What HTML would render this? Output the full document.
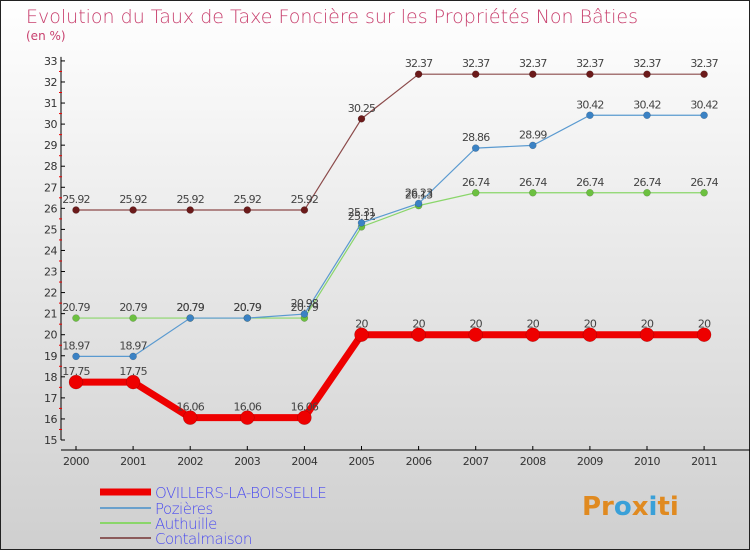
<!DOCTYPE html>
<html><head><meta charset="utf-8"><style>
body{margin:0}
svg{display:block;font-family:"DejaVu Sans","Liberation Sans",sans-serif}
</style></head><body>
<svg id="c" width="750" height="550" xmlns="http://www.w3.org/2000/svg">
<defs><linearGradient id="bg" x1="0" y1="0" x2="0" y2="1"><stop offset="0" stop-color="#ffffff"/><stop offset="1" stop-color="#cfcfcf"/></linearGradient></defs>
<rect x="0.5" y="0.5" width="749" height="549" fill="url(#bg)" stroke="#222"/>
<text x="26" y="23" font-size="19" fill="#c8406e" font-weight="200">Evolution du Taux de Taxe Foncière sur les Propriétés Non Bâties</text>
<text x="26" y="40" font-size="12" fill="#c8406e">(en %)</text>
<g id="axes"></g><g id="series"></g><g id="legend"></g>
</svg>
<script>
const years=["2000","2001","2002","2003","2004","2005","2006","2007","2008","2009","2010","2011"];
const yTicks=[15,16,17,18,19,20,21,22,23,24,25,26,27,28,29,30,31,32,33];
const ovillers=[17.75,17.75,16.06,16.06,16.06,20,20,20,20,20,20,20];
const pozieres=[18.97,18.97,20.79,20.79,20.98,25.31,26.23,28.86,28.99,30.42,30.42,30.42];
const authuille=[20.79,20.79,20.79,20.79,20.79,25.12,26.13,26.74,26.74,26.74,26.74,26.74];
const contalmaison=[25.92,25.92,25.92,25.92,25.92,30.25,32.37,32.37,32.37,32.37,32.37,32.37];
const NS="http://www.w3.org/2000/svg";
const X=i=>76+i*57.1;
const Y=v=>440-(v-15)*21.06;
function mk(p,t,a){const e=document.createElementNS(NS,t);for(const k in a)e.setAttribute(k,a[k]);p.appendChild(e);return e;}
const ax=document.getElementById('axes');
let l=mk(ax,'line',{x1:61,y1:Y(33)-4,x2:61,y2:Y(15),stroke:'#000'});


l=mk(ax,'line',{x1:61,y1:450,x2:750,y2:450,stroke:'#000'});


yTicks.forEach(v=>{
 mk(ax,'line',{x1:61,y1:Y(v),x2:65,y2:Y(v),stroke:'#000'});
 if(v<33)mk(ax,'line',{x1:59,y1:Y(v+0.5),x2:62,y2:Y(v+0.5),stroke:'#e00'});
 const t=mk(ax,'text',{x:57,y:Y(v)+4,'font-size':11,fill:'#333','text-anchor':'end','letter-spacing':'-0.5'});
 t.textContent=v;
 
 
});
years.forEach((y,i)=>{
 mk(ax,'line',{x1:X(i),y1:446,x2:X(i),y2:450,stroke:'#000'});
 const t=mk(ax,'text',{x:X(i),y:465,'font-size':11,fill:'#333','text-anchor':'middle','letter-spacing':'-0.5'});
 t.textContent=y;
 
 
});
const sg=document.getElementById('series');
function draw(data,color,dot,w,r,name){
 const g=mk(sg,'g',{});
 
 
 const p=mk(g,'polyline',{points:data.map((v,i)=>X(i)+','+Y(v)).join(' '),fill:'none',stroke:color,'stroke-width':w});
 
 
 data.forEach((v,i)=>{
  const c=mk(g,'circle',{cx:X(i),cy:Y(v),r:r,fill:dot,stroke:'#0004','stroke-width':0.5});
  
  
  const t=mk(g,'text',{x:X(i),y:Y(v)-7,'font-size':11,fill:'#444','text-anchor':'middle','letter-spacing':'-0.8'});
  t.textContent=v;
  
  
 });
}
draw(contalmaison,'#8b4a4a','#6b1a1a',1.2,3.5,'contalmaison');
draw(authuille,'#8ad66a','#6cc040',1.2,3.5,'authuille');
draw(pozieres,'#5a9ad0','#3b82c4',1.2,3.5,'pozieres');
draw(ovillers,'#ee0000','#ee0000',7,7,'ovillers');
const lg=document.getElementById('legend');
const items=[["OVILLERS-LA-BOISSELLE","#ee0000",7],["Pozières","#6aa0cc",2],["Authuille","#8ad66a",2],["Contalmaison","#8b5a5a",2]];
items.forEach((it,i)=>{
 const y=[492,508,523,538][i];
 const g=mk(lg,'g',{});
 
 
 mk(g,'line',{x1:100,y1:y,x2:151,y2:y,stroke:it[1],'stroke-width':it[2]});
 const t=mk(g,'text',{x:155,y:y+6,'font-size':15,fill:'#4a4af0','font-weight':'200','letter-spacing':'-0.5'});
 t.textContent=it[0];
});
const b=mk(lg,'text',{x:582,y:515,'font-size':26,'font-weight':'bold',fill:'#e08a20'});


[["Pr","#e08a20"],["o","#3aa0d8"],["x","#e08a20"],["i","#3aa0d8"],["ti","#e08a20"]].forEach(s=>{const ts=mk(b,'tspan',{fill:s[1]});ts.textContent=s[0];});
</script>
</body></html>
